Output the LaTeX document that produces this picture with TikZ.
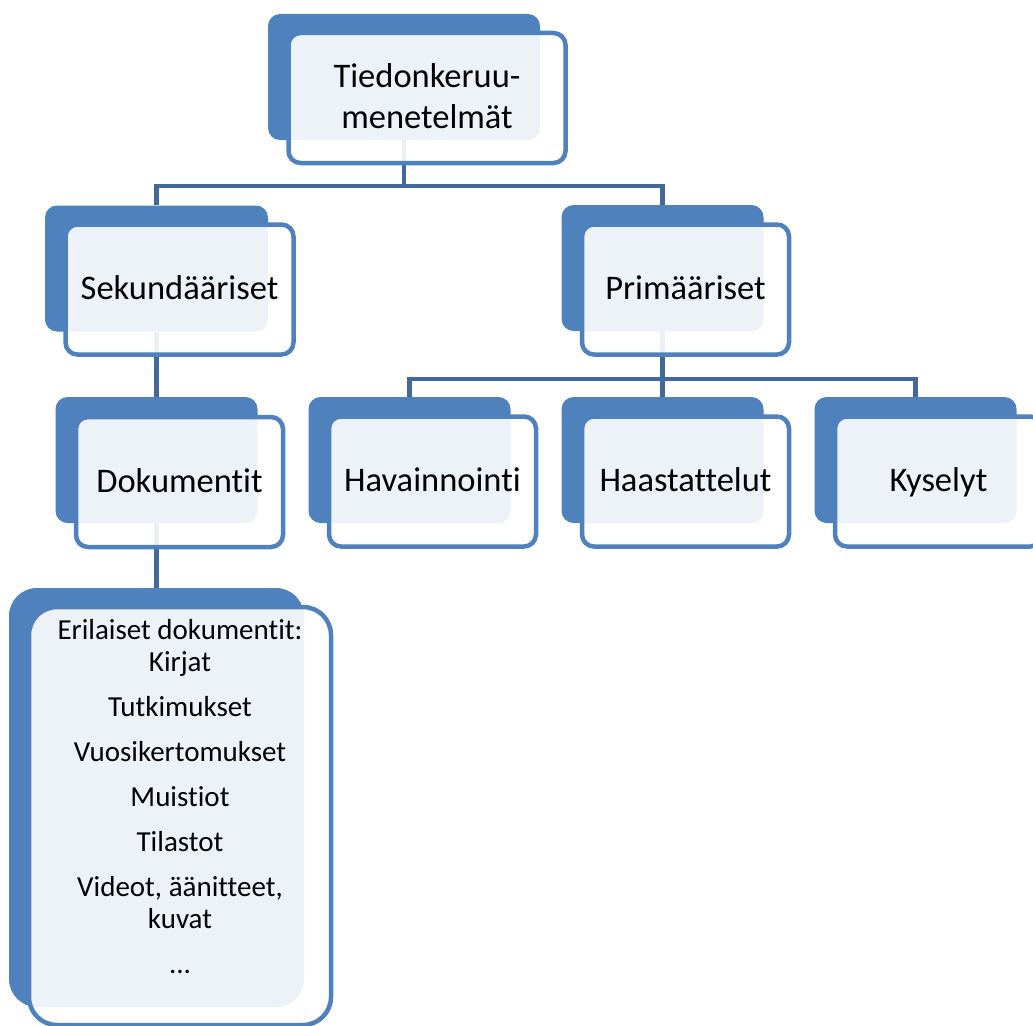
\documentclass[tikz,border=0pt]{standalone}
\usepackage{fontspec}
\setmainfont{Carlito}[Ligatures={NoCommon,NoRequired,NoContextual},
	RawFeature={-liga;-clig;-dlig;-calt}]
\usetikzlibrary{backgrounds}
\definecolor{boxblue}{RGB}{79,129,189}
\definecolor{lineblue}{RGB}{65,105,155}

\begin{document}
\begin{tikzpicture}[x=1pt,y=-1pt,
	backbox/.style={fill=boxblue, rounded corners=12pt, inner sep=0pt,
		minimum width=202pt, minimum height=126pt},
	frontbox/.style={draw=boxblue, line width=4.5pt, fill=white,
		fill opacity=0.9, text opacity=1, rounded corners=12pt, inner sep=0pt,
		minimum width=207pt, minimum height=130pt, align=center,
		text height=27pt, text depth=7pt,
		font=\fontsize{34.5}{41}\selectfont},
	conn/.style={draw=lineblue, line width=4.5pt},
	listtext/.style={align=center, inner sep=0pt,
		font=\fontsize{29}{32}\selectfont}]
\useasboundingbox (0,0) rectangle (1033,1025);

%========================================
% TOP: Tiedonkeruumenetelmät
%========================================
\node[backbox, minimum width=272pt] (topback) at (404,77) {};
\node[frontbox, minimum width=277pt, text height=68pt] (top) at (427,98)
	{Tiedonkeruu-\\menetelmät};

%========================================
% SECOND ROW
%========================================
\node[backbox, minimum width=223pt] (sekback) at (156.5,268.5) {};
\node[frontbox, minimum width=228pt] (sek) at (179.5,289.5) {Sekundääriset};

\node[backbox] (primback) at (662.5,268) {};
\node[frontbox] (prim) at (685.5,289.5) {Primääriset};

%========================================
% THIRD ROW
%========================================
\node[backbox] (dokback) at (156.5,460) {};
\node[frontbox] (dok) at (179.5,482) {Dokumentit};

\node[backbox] (havback) at (409.5,460) {};
\node[frontbox] (hav) at (432.5,481.5) {Havainnointi};

\node[backbox] (haasback) at (662.5,460) {};
\node[frontbox] (haas) at (685.5,481.5) {Haastattelut};

\node[backbox] (kysback) at (915.5,460) {};
\node[frontbox] (kys) at (938.5,481.5) {Kyselyt};

%========================================
% BOTTOM: list of documents
%========================================
\node[backbox, rounded corners=28pt, minimum width=295pt,
	minimum height=419pt] (listback) at (156.5,797.5) {};
\node[frontbox, rounded corners=28pt, minimum width=302pt,
	minimum height=418pt] (list) at (180,816) {};
\node[listtext, anchor=north] (doclist) at (180,619)
	{Erilaiset dokumentit:\\Kirjat\\[13pt]Tutkimukset\\[13pt]%
	Vuosikertomukset\\[13pt]Muistiot\\[13pt]Tilastot\\[13pt]%
	Videot, äänitteet,\\kuvat\\[13pt]...};

%========================================
% CONNECTORS (behind the boxes)
%========================================
\begin{scope}[on background layer]
	\coordinate (bus1) at (404,186);
	\coordinate (bus2) at (662.5,379);
	% top -> second row
	\draw[conn] (topback.south) -- (bus1);
	\draw[conn] (sekback.north) |- (bus1) -| (primback.north);
	% Sekundääriset -> Dokumentit -> list
	\draw[conn] (sekback.south) -- (dokback.north);
	\draw[conn] (dokback.south) -- (listback.north);
	% Primääriset -> third row
	\draw[conn] (primback.south) -- (bus2);
	\draw[conn] (havback.north) |- (bus2) -| (kysback.north);
	\draw[conn] (bus2) -- (haasback.north);
\end{scope}
\end{tikzpicture}
\end{document}
